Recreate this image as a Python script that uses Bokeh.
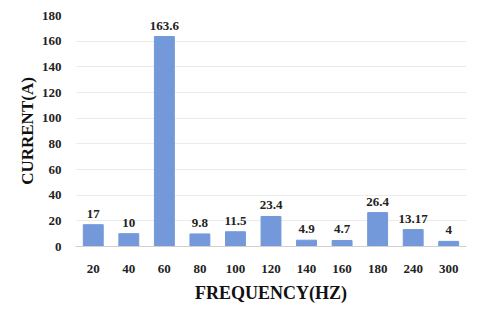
from bokeh.plotting import figure
from bokeh.models import ColumnDataSource, LabelSet, Range1d
from bokeh.embed import file_html
from bokeh.resources import INLINE

freqs = ["20", "40", "60", "80", "100", "120", "140", "160", "180", "240", "300"]
currents = [17, 10, 163.6, 9.8, 11.5, 23.4, 4.9, 4.7, 26.4, 13.17, 4]
labels = ["17", "10", "163.6", "9.8", "11.5", "23.4", "4.9", "4.7", "26.4", "13.17", "4"]

src = ColumnDataSource(dict(x=freqs, y=currents, t=labels))

p = figure(x_range=freqs, y_range=Range1d(0, 180), width=472, height=305,
           output_backend="svg", toolbar_location=None,
           min_border_left=75, min_border_right=6, min_border_top=15, min_border_bottom=59)
p.outline_line_color = None
p.vbar(x="x", top="y", width=0.56, source=src, color="#7399DA")

p.add_layout(LabelSet(x="x", y="y", text="t", source=src, text_align="center",
                      text_baseline="bottom", y_offset=7, text_font="Liberation Serif",
                      text_font_style="bold", text_font_size="13px", text_color="#222222"))

font = "Liberation Serif"
p.yaxis.ticker = list(range(0, 181, 20))
p.yaxis.axis_line_color = None
p.yaxis.major_tick_line_color = None
p.yaxis.minor_tick_line_color = None
p.yaxis.major_label_text_font = font
p.yaxis.major_label_text_font_style = "bold"
p.yaxis.major_label_text_font_size = "13px"
p.yaxis.major_label_text_color = "#222222"
p.yaxis.major_label_standoff = 8
p.yaxis.axis_label = "CURRENT(A)"
p.yaxis.axis_label_text_font = font
p.yaxis.axis_label_text_font_style = "bold"
p.yaxis.axis_label_text_font_size = "17px"
p.yaxis.axis_label_text_color = "#111111"
p.yaxis.axis_label_standoff = 2

p.xaxis.axis_line_color = "#D0D0D0"
p.xaxis.major_tick_line_color = None
p.xaxis.minor_tick_line_color = None
p.xaxis.major_label_text_font = font
p.xaxis.major_label_text_font_style = "bold"
p.xaxis.major_label_text_font_size = "13px"
p.xaxis.major_label_text_color = "#222222"
p.xaxis.major_label_standoff = 12
p.xaxis.axis_label = "FREQUENCY(HZ)"
p.xaxis.axis_label_text_font = font
p.xaxis.axis_label_text_font_style = "bold"
p.xaxis.axis_label_text_font_size = "18px"
p.xaxis.axis_label_text_color = "#111111"
p.xaxis.axis_label_standoff = 7

p.xgrid.grid_line_color = None
p.ygrid.grid_line_color = "#EBEBEB"
p.x_range.range_padding = 0.0

open("out.html", "w").write(file_html(p, INLINE))
